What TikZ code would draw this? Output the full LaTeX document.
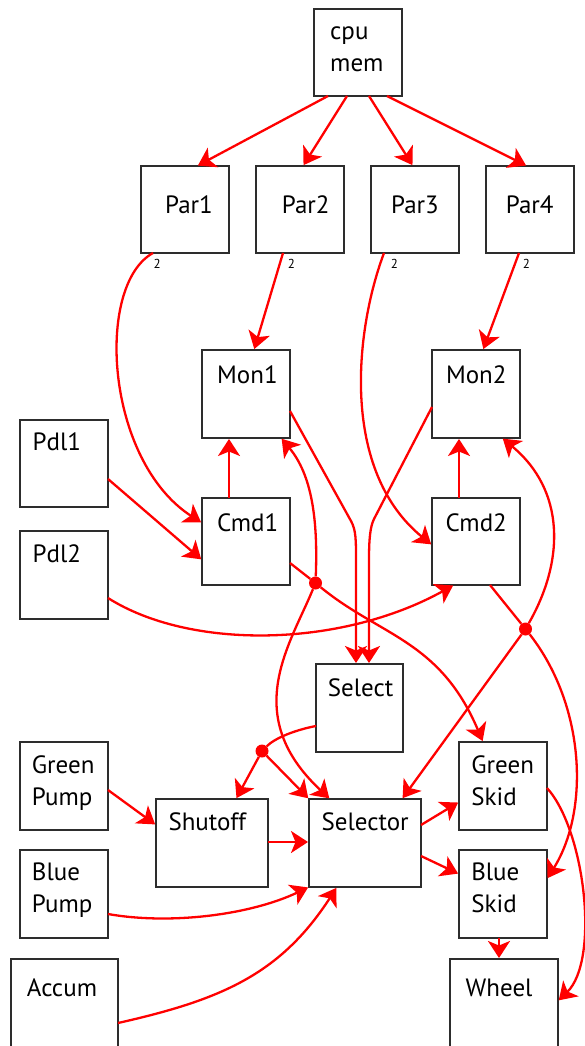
\documentclass[tikz,border=0pt]{standalone}
\usepackage{fontspec}
\setmainfont{PT Sans}
\usetikzlibrary{arrows.meta}
\definecolor{boxgray}{HTML}{2D2D2D}
\newcommand\bx[5]{\node[box, minimum width={(#4-#2)*1pt}, minimum height={(#5-#3)*1pt}] (#1) at ({(#2+#4)/2},{(#3+#5)/2}) {};}
\tikzset{
 box/.style={draw=boxgray, line width=2pt, rectangle, inner sep=0pt, outer sep=0pt},
 lbl/.style={anchor=base west, inner sep=0pt, font=\fontsize{25}{32}\selectfont, align=left},
 num/.style={anchor=base west, inner sep=0pt, font=\fontsize{13}{15}\selectfont},
 wire/.style={draw=red, line width=2.3pt, shorten >=1pt, -{Stealth[length=17pt,width=22pt,inset=4.5pt]}},
 redline/.style={draw=red, line width=2.3pt},
 jdot/.style={circle, fill=red, inner sep=0pt, minimum size=13pt},
}
\begin{document}
\begin{tikzpicture}[x=1pt,y=-1pt]
\useasboundingbox (0,0) rectangle (584,1046);
% boxes
\bx{cpu}{314}{9}{402}{96}
\bx{par1}{141}{166}{229}{253}
\bx{par2}{256}{166}{344}{253}
\bx{par3}{371}{166}{459}{253}
\bx{par4}{486}{166}{574}{253}
\bx{mon1}{202}{350}{290}{438}
\bx{mon2}{432}{350}{520}{438}
\bx{pdl1}{20}{420}{108}{507}
\bx{pdl2}{20}{531}{108}{619}
\bx{cmd1}{202}{498}{290}{585}
\bx{cmd2}{432}{498}{520}{585}
\bx{select}{316}{664}{403}{752}
\bx{gpump}{20}{742}{108}{830}
\bx{bpump}{20}{850}{108}{938}
\bx{accum}{11}{959}{118}{1080}
\bx{shutoff}{156}{799}{268}{887}
\bx{selector}{309}{799}{421}{887}
\bx{gskid}{459}{742}{547}{830}
\bx{bskid}{459}{850}{547}{938}
\bx{wheel}{450}{959}{558}{1080}
% labels (multi-line labels are anchored at the baseline of their last line)
\node[lbl] (cpuT) at (330,72) {cpu\\mem};
\node[lbl] (par1T) at (165,213) {Par1};
\node[lbl] (par2T) at (281.7,213) {Par2};
\node[lbl] (par3T) at (391,213) {Par3};
\node[lbl] (par4T) at (505.7,213) {Par4};
\node[lbl] (mon1T) at (217,383.3) {Mon1};
\node[lbl] (mon2T) at (445.8,383.3) {Mon2};
\node[lbl] (pdl1T) at (32.4,450.7) {Pdl1};
\node[lbl] (pdl2T) at (32.4,562.7) {Pdl2};
\node[lbl] (cmd1T) at (216.8,531) {Cmd1};
\node[lbl] (cmd2T) at (445.4,531) {Cmd2};
\node[lbl] (selectT) at (327.7,696) {Select};
\node[lbl] (gpumpT) at (31.7,805) {Green\\Pump};
\node[lbl] (bpumpT) at (31.7,912.7) {Blue\\Pump};
\node[lbl] (accumT) at (26.8,996.7) {Accum};
\node[lbl] (shutoffT) at (168.3,830) {Shutoff};
\node[lbl] (selectorT) at (321.4,830) {Selector};
\node[lbl] (gskidT) at (471.1,805) {Green\\Skid};
\node[lbl] (bskidT) at (471.1,912.7) {Blue\\Skid};
\node[lbl] (wheelT) at (465.5,996.7) {Wheel};
\node[num] (n1) at (153.5,268.5) {2};
\node[num] (n2) at (287.7,268.5) {2};
\node[num] (n3) at (390.7,268.5) {2};
\node[num] (n4) at (522.7,268.5) {2};
% junction dots
\node[jdot] (dot1) at (315.5,583) {};
\node[jdot] (dot2) at (525.5,629) {};
\node[jdot] (dot3) at (262,751) {};
% connectors
\draw[wire] ([xshift=14pt]cpu.south west) -- ([xshift=56pt]par1.north west);
\draw[wire] ([xshift=33pt]cpu.south west) -- ([xshift=47pt]par2.north west);
\draw[wire] ([xshift=55pt]cpu.south west) -- ([xshift=42pt]par3.north west);
\draw[wire] ([xshift=73pt]cpu.south west) -- ([xshift=41pt]par4.north west);
\draw[wire] ([xshift=12pt]par1.south west) .. controls (95,285) and (105,460) .. ([yshift=-25pt]cmd1.north west);
\draw[wire] ([xshift=27pt]par2.south west) -- ([xshift=52pt]mon1.north west);
\draw[wire] ([xshift=13pt]par3.south west) .. controls (355,330) and (340,470) .. ([yshift=-47pt]cmd2.north west);
\draw[wire] ([xshift=33pt]par4.south west) -- ([xshift=51pt]mon2.north west);
\draw[wire] ([yshift=-59pt]pdl1.north east) -- ([yshift=-62pt]cmd1.north west);
\draw[wire] ([xshift=27pt]cmd1.north west) -- ([xshift=27pt]mon1.south west);
\draw[wire] ([xshift=27pt]cmd2.north west) -- ([xshift=27pt]mon2.south west);
\draw[wire] ([yshift=-67pt]pdl2.north east) .. controls (190,650) and (340,648) .. ([xshift=22pt]cmd2.south west);
\draw[redline] ([yshift=-65pt]cmd1.north east) -- (dot1);
\draw[wire] (dot1) .. controls (380,636) and (440,640) .. ([xshift=24pt]gskid.north west);
\draw[wire] (dot1) .. controls (318,520) and (312,475) .. ([xshift=79pt]mon1.south west);
\draw[wire] (dot1) .. controls (290,645) and (240,715) .. ([xshift=21pt]selector.north west);
\draw[redline] ([xshift=58pt]cmd2.south west) -- (dot2);
\draw[wire] (dot2) .. controls (585,705) and (590,810) .. ([yshift=-29pt]bskid.north east);
\draw[wire] (dot2) .. controls (565,560) and (565,490) .. ([xshift=70pt]mon2.south west);
\draw[wire] (dot2) -- ([xshift=-19pt]selector.north east);
\draw[wire] ([yshift=-61pt]mon1.north east) -- (351,521) .. controls (356,530) and (356,540) .. (356,560) -- ([xshift=40pt]select.north west);
\draw[wire] ([yshift=-57pt]mon2.north west) -- (374,519) .. controls (370,527) and (369,540) .. (369,560) -- ([xshift=53pt]select.north west);
\draw[redline] ([yshift=-62pt]select.north west) .. controls (295,730) and (275,738) .. (dot3);
\draw[wire] (dot3) -- ([xshift=80pt]shutoff.north west);
\draw[wire] (dot3) -- (selector.north west);
\draw[wire] ([yshift=-48pt]gpump.north east) -- ([yshift=-26pt]shutoff.north west);
\draw[wire] ([yshift=-43pt]shutoff.north east) -- ([yshift=-43pt]selector.north west);
\draw[wire] ([yshift=-64pt]bpump.north east) .. controls (170,925) and (250,915) .. (selector.south west);
\draw[wire] ([yshift=-64pt]accum.north east) .. controls (220,1000) and (280,975) .. ([xshift=28pt]selector.south west);
\draw[wire] ([yshift=-26pt]selector.north east) -- ([yshift=-60pt]gskid.north west);
\draw[wire] ([yshift=-57pt]selector.north east) -- ([yshift=-24pt]bskid.north west);
\draw[wire] ([xshift=40pt]bskid.south west) -- ([xshift=49pt]wheel.north west);
\draw[wire] ([yshift=-46pt]gskid.north east) .. controls (585,830) and (600,960) .. ([yshift=-42pt]wheel.north east);
\end{tikzpicture}
\end{document}
